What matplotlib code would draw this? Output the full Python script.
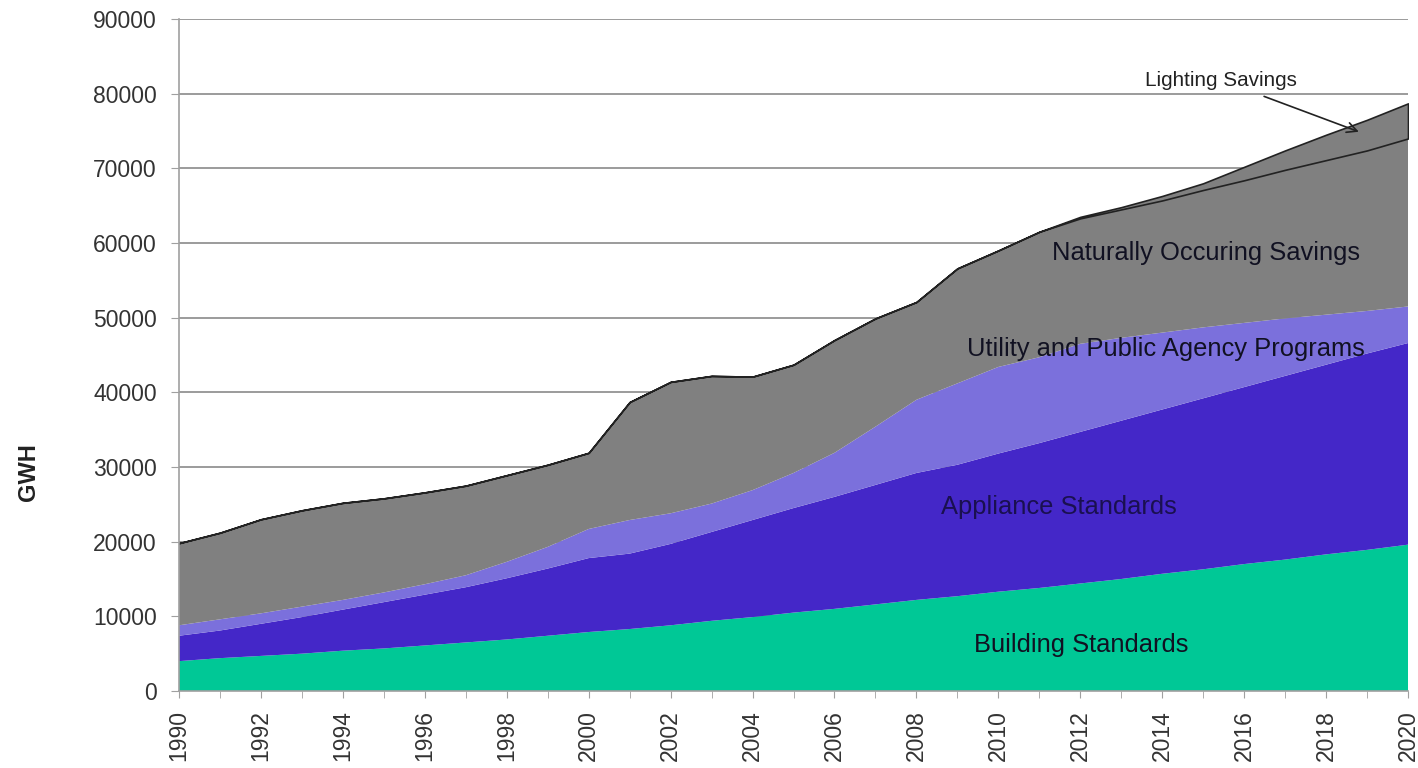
import matplotlib
matplotlib.use("Agg")
import matplotlib.pyplot as plt
import numpy as np

plt.rcParams['font.family'] = ['Liberation Sans', 'DejaVu Sans']

years = list(range(1990, 2021))

building = [4.0, 4.4, 4.7, 5.0, 5.4, 5.7, 6.1, 6.5, 6.9, 7.4, 7.9, 8.3, 8.8, 9.4, 9.9, 10.5,
            11.0, 11.6, 12.2, 12.7, 13.3, 13.8, 14.4, 15.0, 15.7, 16.3, 17.0, 17.6, 18.3, 18.9, 19.6]
appliance = [3.4, 3.7, 4.3, 4.9, 5.5, 6.2, 6.8, 7.4, 8.2, 9.0, 9.9, 10.1, 10.9, 11.9, 13.0, 14.0,
             15.0, 16.0, 17.0, 17.6, 18.5, 19.4, 20.3, 21.2, 22.0, 22.9, 23.7, 24.6, 25.4, 26.3, 27.0]
utility = [1.4, 1.5, 1.4, 1.4, 1.3, 1.3, 1.4, 1.6, 2.2, 2.9, 3.9, 4.5, 4.1, 3.8, 4.0, 4.7,
           5.9, 7.8, 9.8, 10.9, 11.6, 11.5, 11.8, 11.1, 10.3, 9.5, 8.6, 7.7, 6.7, 5.7, 4.9]
natural = [11.0, 11.6, 12.6, 12.9, 13.0, 12.6, 12.3, 12.0, 11.6, 11.0, 10.2, 15.8, 17.6, 17.1, 15.2, 14.5,
           15.1, 14.5, 13.1, 15.4, 15.6, 16.8, 16.8, 17.2, 17.7, 18.4, 19.1, 19.9, 20.7, 21.5, 22.5]
lighting = [0, 0, 0, 0, 0, 0, 0, 0, 0, 0, 0, 0, 0, 0, 0, 0,
            0, 0, 0, 0, 0, 0, 0.2, 0.3, 0.6, 0.9, 1.8, 2.6, 3.4, 4.1, 4.7]

series_labels = ["Building Standards", "Appliance Standards",
                 "Utility and Public Agency Programs", "Naturally Occuring Savings",
                 "Lighting Savings"]
colors = ["#00C896", "#4427C8", "#7B70DC", "#808080", "#808080"]

yticks = list(range(0, 90001, 10000))
xticks_major = list(range(1990, 2021, 2))

scale = 1000.0
layers = [np.array(s) * scale for s in (building, appliance, utility, natural, lighting)]

fig = plt.figure(figsize=(14.18, 7.68), dpi=100)
ax = fig.add_axes([179/1418, 1 - 691/768, (1408-179)/1418, (691-19)/768])

ax.set_axisbelow(True)
ax.yaxis.grid(True, color="#8a8a8a", linewidth=1.2)
ax.xaxis.grid(False)

polys = ax.stackplot(years, *layers, colors=colors, linewidth=0)
polys[-1].set_edgecolor("#222222")
polys[-1].set_linewidth(1.2)

ax.set_xlim(1990, 2020)
ax.set_ylim(0, 90000)
ax.set_yticks(yticks)
ax.set_yticklabels([str(v) for v in yticks])
ax.set_xticks(xticks_major)
ax.set_xticklabels([str(y) for y in xticks_major], rotation=90)
ax.set_xticks(years, minor=True)

for s in ["top", "right"]:
    ax.spines[s].set_visible(False)
for s in ["left", "bottom"]:
    ax.spines[s].set_color("#a0a0a0")
    ax.spines[s].set_linewidth(1.2)

ax.tick_params(axis="y", which="major", length=6, color="#a0a0a0", labelsize=16.5,
               labelcolor="#333333", pad=10)
ax.tick_params(axis="x", which="both", length=5, color="#a0a0a0", labelsize=16.5,
               labelcolor="#333333", pad=9)

ax.set_ylabel("GWH", fontsize=17, fontweight="bold", color="#222222")
ax.yaxis.set_label_coords(-0.113, 0.326)

txtc = "#111122"
fs = 18.4
ax.text(2015.07, 58700, series_labels[3], ha="center", va="center", fontsize=fs, color=txtc)
ax.text(2014.09, 45800, series_labels[2], ha="center", va="center", fontsize=fs, color=txtc)
ax.text(2011.47, 24600, series_labels[1], ha="center", va="center", fontsize=fs, color="#1a1050")
ax.text(2012.03, 6200, series_labels[0], ha="center", va="center", fontsize=fs, color=txtc)

ax.annotate(series_labels[4], xy=(2018.8, 74900), xytext=(2015.43, 81800),
            ha="center", va="center", fontsize=14.9, color="#222222",
            arrowprops=dict(arrowstyle="->", color="#222222", lw=1.2,
                            shrinkA=8, shrinkB=0, mutation_scale=18))

fig.savefig("out.png", dpi=100)
